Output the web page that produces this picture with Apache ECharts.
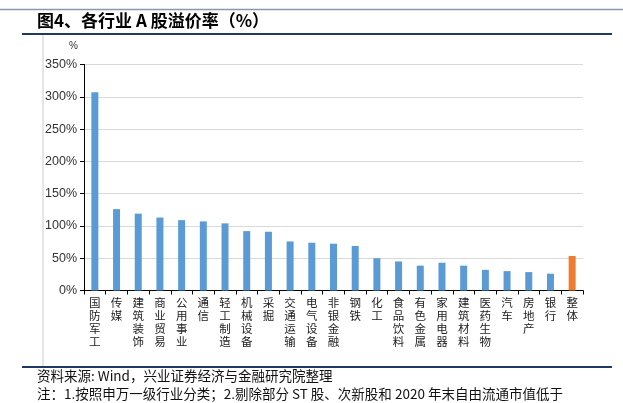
<!DOCTYPE html>
<html><head><meta charset="utf-8">
<script src="https://cdn.jsdelivr.net/npm/echarts@6/dist/echarts.min.js"></script>
<style>html,body{margin:0;padding:0;background:#fff}#c{width:623px;height:403px}</style>
</head><body><div id="c"></div>
<script>
const categories = ['国防军工','传媒','建筑装饰','商业贸易','公用事业','通信','轻工制造','机械设备','采掘','交通运输','电气设备','非银金融','钢铁','化工','食品饮料','有色金属','家用电器','建筑材料','医药生物','汽车','房地产','银行','整体'];
const premium = [307,126,119,113,109,107,104,92,91,76,74,72.5,69,50,45,38.5,43,38.5,32,30,28.5,26,53.5];
const yTicks = [0,50,100,150,200,250,300,350];
const highlight = '整体';

const chart = echarts.init(document.getElementById('c'));
const font = '"Noto Sans CJK SC", "Noto Sans", sans-serif';
chart.setOption({
  animation:false,
  grid:{left:84,right:40,top:64.5,bottom:112.5,containLabel:false},
  xAxis:{type:'category',data:categories,
    axisLine:{lineStyle:{color:'#000',width:1}},
    axisTick:{show:true,length:4,lineStyle:{color:'#000'}},
    axisLabel:{interval:0,fontSize:11.5,color:'#222',fontFamily:font,lineHeight:12.8,margin:6,verticalAlign:'top',
      formatter:v=>v.split('').join('\n')}},
  yAxis:{type:'value',min:yTicks[0],max:yTicks[yTicks.length-1],interval:50,
    axisLine:{show:true,lineStyle:{color:'#000',width:1}},
    axisTick:{show:true,length:4,lineStyle:{color:'#000'}},
    axisLabel:{fontSize:12.5,color:'#333',fontFamily:'Arial, "Liberation Sans", sans-serif',margin:7,formatter:v=>v+'%'},
    splitLine:{lineStyle:{color:'#d9d9d9',width:1}}},
  series:[{type:'bar',barWidth:7,
    data:premium.map((v,i)=>({value:v,itemStyle:{color:categories[i]===highlight?'#ED7D31':'#5B9BD5'}}))}],
  graphic:[
    {type:'line',shape:{x1:0,y1:9.5,x2:623,y2:9.5},style:{stroke:'#8d96a8',lineWidth:1.5}},
    {type:'text',left:37,top:12,style:{text:'图4、各行业 A 股溢价率（%）',fontSize:17,fontWeight:'bold',fill:'#000',fontFamily:font}},
    {type:'line',shape:{x1:22,y1:34,x2:612,y2:34},style:{stroke:'#1f3864',lineWidth:2}},
    {type:'line',shape:{x1:43,y1:35,x2:43,y2:366},style:{stroke:'#cccccc',lineWidth:1}},
    {type:'text',left:69,top:41,style:{text:'%',fontSize:10,fill:'#333',fontFamily:'Arial, sans-serif'}},
    {type:'line',shape:{x1:22,y1:367,x2:612,y2:367},style:{stroke:'#1f3864',lineWidth:2}},
    {type:'text',left:37,top:369,style:{text:'资料来源: Wind，兴业证券经济与金融研究院整理',fontSize:13.5,fill:'#111',fontFamily:font}},
    {type:'text',left:37,top:387,style:{text:'注：1.按照申万一级行业分类；2.剔除部分 ST 股、次新股和 2020 年末自由流通市值低于',fontSize:13.5,fill:'#111',fontFamily:font}}
  ]
});
</script></body></html>
